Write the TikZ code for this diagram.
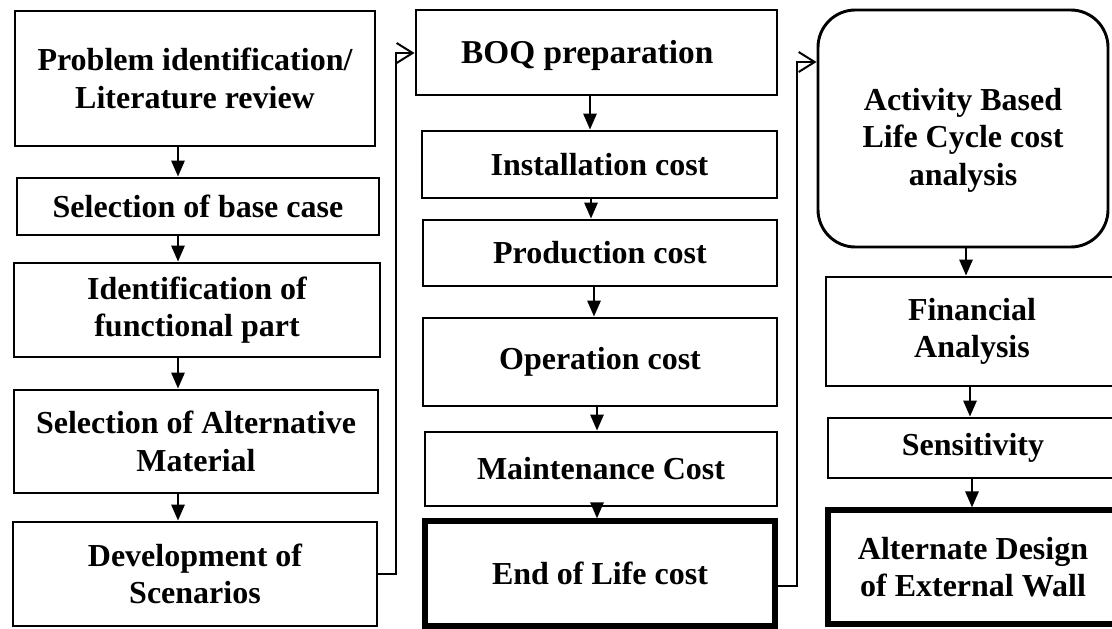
\documentclass[tikz,border=0pt]{standalone}
\usepackage{fontspec}
\setmainfont{Liberation Serif}
\usetikzlibrary{arrows.meta}
\begin{document}
\begin{tikzpicture}[x=0.75pt,y=-0.75pt,
  box/.style={draw, line width=2.2pt, align=center, inner sep=0pt,
    font=\bfseries\fontsize{24}{28}\selectfont},
  thickbox/.style={box, line width=4pt},
  sz/.style 2 args={minimum width={#1*0.75pt}, minimum height={#2*0.75pt}},
  arr/.style={line width=1.5pt, -{Triangle[length=12pt,width=10pt]}},
  link/.style={line width=1.5pt, -{Straight Barb[length=12pt,width=15pt,line width=1.5pt]}},
]
\useasboundingbox (0,0) rectangle (1112,628);
\clip (0,0) rectangle (1112,628);

% column 1
\node[box, sz={360}{135}] (A) at (195,78.5) {Problem identification/\\Literature review};
\node[box, sz={362}{57}] (B) at (198,206.5) {Selection of base case};
\node[box, sz={366}{94}] (C) at (197,310) {Identification of\\functional part};
\node[box, sz={364}{103}] (D) at (196,441.5) {Selection of Alternative\\Material};
\node[box, sz={364}{104}] (E) at (195,574) {Development of\\Scenarios};

% column 2
\node[box, sz={361}{85}, font=\bfseries\fontsize{25}{29}\selectfont] (BOQ) at (596.5,52.5) {\rule{0pt}{22pt}BOQ preparation\hspace*{14pt}};
\node[box, sz={355}{67}] (INS) at (599.5,164.5) {Installation cost};
\node[box, sz={354}{66}] (PRO) at (600,253) {Production cost};
\node[box, sz={354}{88}] (OPE) at (600,362) {Operation cost};
\node[box, sz={352}{74}] (MAI) at (601,469) {Maintenance Cost};
\node[thickbox, sz={350}{105}] (EOL) at (600,573.5) {End of Life cost};

% column 3
\node[box, sz={290}{237}, rounded corners=28pt] (ACT) at (963,128.5)
  {\rule{0pt}{34pt}Activity Based\\Life Cycle cost\\analysis};
\node[box, sz={292}{109}] (FIN) at (972,331.5) {Financial\\Analysis};
\node[box, sz={290}{60}] (SEN) at (973,448) {Sensitivity};
\node[thickbox, sz={290}{114}] (ALT) at (973,567) {Alternate Design\\of External Wall};

% helper coordinates
\coordinate (k1) at (178,0);
\coordinate (k2) at (590,0);
\coordinate (k3) at (591,0);
\coordinate (k4) at (594,0);
\coordinate (k5) at (597,0);
\coordinate (k6) at (966,0);
\coordinate (k7) at (970,0);
\coordinate (k8) at (972,0);
\coordinate (c1) at (396,53);
\coordinate (c2) at (797,62);

% vertical arrows
\draw[arr] (A.south -| k1) -- (B.north -| k1);
\draw[arr] (B.south -| k1) -- (C.north -| k1);
\draw[arr] (C.south -| k1) -- (D.north -| k1);
\draw[arr] (D.south -| k1) -- (E.north -| k1);

\draw[arr] (BOQ.south -| k2) -- (INS.north -| k2);
\draw[arr] (INS.south -| k3) -- (PRO.north -| k3);
\draw[arr] (PRO.south -| k4) -- (OPE.north -| k4);
\draw[arr] (OPE.south -| k5) -- (MAI.north -| k5);
\draw[arr] (MAI.south -| k5) -- (EOL.north -| k5);

\draw[arr] (ACT.south -| k6) -- (FIN.north -| k6);
\draw[arr] (FIN.south -| k7) -- (SEN.north -| k7);
\draw[arr] (SEN.south -| k8) -- (ALT.north -| k8);

% links between columns
\draw[link] (E.east) -| (c1) -- (c1 -| BOQ.west);
\draw[link] ([yshift=-9pt]EOL.east) -| (c2) -- (c2 -| ACT.west);
\end{tikzpicture}
\end{document}
